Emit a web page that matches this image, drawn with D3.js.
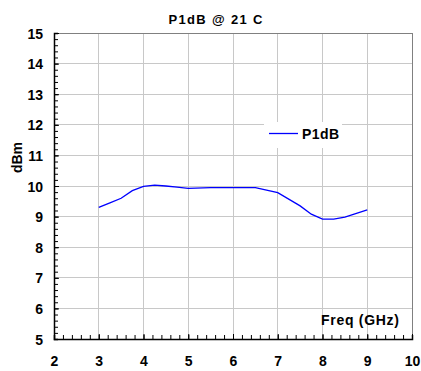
<!DOCTYPE html>
<html><head><meta charset="utf-8">
<script src="https://cdn.jsdelivr.net/npm/d3@7"></script>
<style>body{margin:0;background:#fff}svg{display:block}text{font-family:"Liberation Sans",Arial,sans-serif;font-weight:bold;fill:#000}</style>
</head><body>
<script>
const freq = [3.0, 3.25, 3.5, 3.75, 4.0, 4.25, 4.5, 4.75, 5.0, 5.5, 6.0, 6.5, 7.0, 7.5, 7.75, 8.0, 8.25, 8.5, 9.0];
const p1db = [9.30, 9.45, 9.60, 9.85, 9.99, 10.03, 10.00, 9.96, 9.92, 9.95, 9.95, 9.95, 9.78, 9.35, 9.08, 8.92, 8.92, 8.98, 9.22];
const xTicks = [2, 3, 4, 5, 6, 7, 8, 9, 10];
const yTicks = [5, 6, 7, 8, 9, 10, 11, 12, 13, 14, 15];
const seriesName = "P1dB";
const title = "P1dB @ 21 C";
const xLabel = "Freq (GHz)";
const yLabel = "dBm";

const W = 421, H = 371;
const L = 54, R = 412, T = 33, B = 339;
const FONT = '"Liberation Sans",Arial,sans-serif';
const svg = d3.select("body").append("svg").attr("width", W).attr("height", H);
const x = d3.scaleLinear().domain([2, 10]).range([L, R]);
const y = d3.scaleLinear().domain([5, 15]).range([B, T]);

// gridlines
const g = svg.append("g").attr("stroke", "#c8c8c8").attr("stroke-width", 1).attr("shape-rendering", "crispEdges");
xTicks.slice(1, -1).forEach(v => g.append("line").attr("x1", x(v)).attr("x2", x(v)).attr("y1", T).attr("y2", B));
yTicks.slice(1, -1).forEach(v => g.append("line").attr("y1", y(v)).attr("y2", y(v)).attr("x1", L).attr("x2", R));

// top/right borders
svg.append("line").attr("x1", L).attr("x2", R).attr("y1", T).attr("y2", T).attr("stroke", "#808080").attr("shape-rendering", "crispEdges");
svg.append("line").attr("x1", R).attr("x2", R).attr("y1", T).attr("y2", B).attr("stroke", "#808080").attr("shape-rendering", "crispEdges");

// legend box
svg.append("rect").attr("x", 264).attr("y", 122).attr("width", 78).attr("height", 26).attr("fill", "#fff");

// line
const line = d3.line().x((d, i) => x(freq[i])).y(d => y(d));
svg.append("path").datum(p1db).attr("d", line).attr("fill", "none").attr("stroke", "#0000ff").attr("stroke-width", 1.3);

// minor ticks
const minorX = d3.range(2, 10.001, 0.2);
const minorY = d3.range(5, 15.001, 0.2);
const xa = svg.append("g").attr("transform", `translate(0,${B})`).call(d3.axisBottom(x).tickValues(minorX).tickSize(-4).tickFormat(""));
const ya = svg.append("g").attr("transform", `translate(${L},0)`).call(d3.axisLeft(y).tickValues(minorY).tickSize(-4).tickFormat(""));
[xa, ya].forEach(a => { a.select(".domain").attr("stroke", "#000").attr("stroke-width", 1.5); a.selectAll(".tick line").attr("stroke", "#000"); });
// major ticks
const xMaj = svg.append("g").attr("transform", `translate(0,${B})`).call(d3.axisBottom(x).tickValues(xTicks).tickSize(-5).tickFormat(d3.format("d")));
const yMaj = svg.append("g").attr("transform", `translate(${L},0)`).call(d3.axisLeft(y).tickValues(yTicks).tickSize(-5).tickPadding(11).tickFormat(d3.format("d")));
[xMaj, yMaj].forEach(a => {
  a.select(".domain").remove();
  a.selectAll(".tick line").attr("stroke", "#000");
  a.selectAll(".tick text").style("font-size", "14px").style("font-weight", "bold").style("font-family", FONT).attr("fill", "#000");
});
xMaj.selectAll(".tick text").attr("dy", null).attr("y", 27);
yMaj.selectAll(".tick text").attr("dy", "0.36em");

// legend contents
svg.append("line").attr("x1", 269).attr("x2", 298).attr("y1", 133.5).attr("y2", 133.5).attr("stroke", "#0000ff").attr("stroke-width", 1.3);
svg.append("text").attr("x", 302).attr("y", 138.5).style("font-size", "14px").attr("textLength", 37).attr("lengthAdjust", "spacing").text(seriesName);

// titles
svg.append("text").attr("x", 168.5).attr("y", 23.5).style("font-size", "13px").attr("textLength", 94).attr("lengthAdjust", "spacing").text(title);
svg.append("text").attr("x", 321).attr("y", 324.5).style("font-size", "14px").attr("textLength", 78).attr("lengthAdjust", "spacing").text(xLabel);
svg.append("text").attr("transform", "translate(22,157.5) rotate(-90)").attr("text-anchor", "middle").style("font-size", "14px").text(yLabel);
</script>
</body></html>
